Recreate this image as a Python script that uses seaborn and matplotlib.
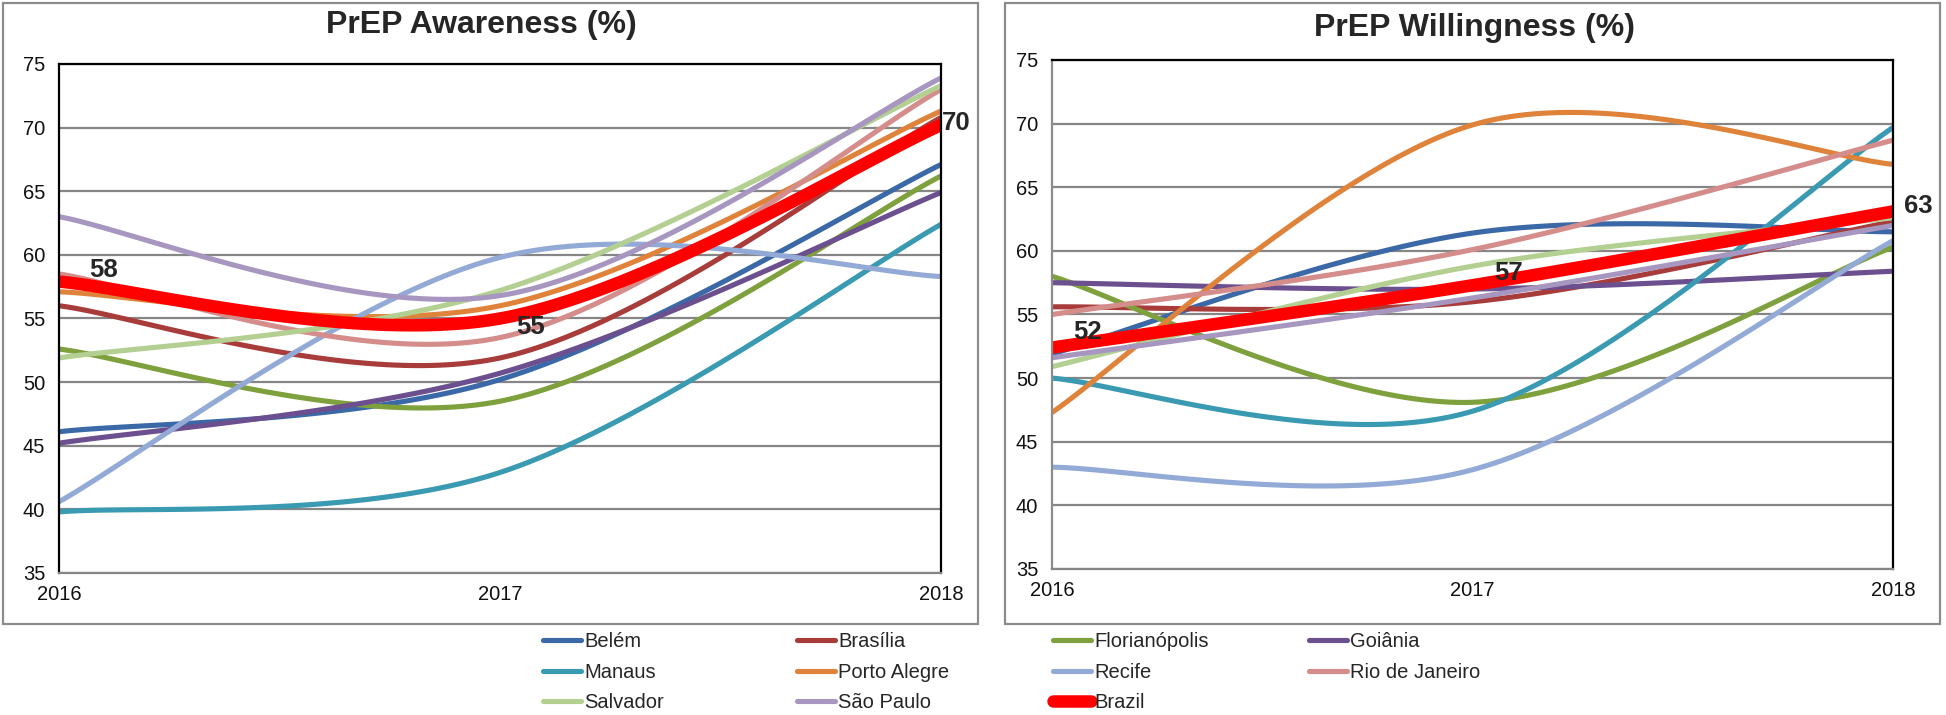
import numpy as np
import pandas as pd
import matplotlib
matplotlib.use("Agg")
import matplotlib.pyplot as plt
import seaborn as sns
from matplotlib.patches import Rectangle

sns.set_style("white")
plt.rcParams['font.family'] = ['Liberation Sans', 'DejaVu Sans']

# ---- Data ----
years = [2016, 2017, 2018]
cities = ['Belém', 'Brasília', 'Florianópolis', 'Goiânia', 'Manaus',
          'Porto Alegre', 'Recife', 'Rio de Janeiro', 'Salvador', 'São Paulo']
city_colors = ['#3b68a6', '#a83c3a', '#7ea03d', '#6b4f8e', '#3a9ab2',
               '#e0833a', '#92aad5', '#d58d8b', '#b3cf91', '#a796bf']

# awareness (%) per city, one list per year
awareness_2016 = [46.1, 56.0, 52.6, 45.2, 39.8, 57.1, 40.6, 58.5, 51.9, 63.0]
awareness_2017 = [50.2, 51.9, 48.5, 50.7, 42.9, 56.0, 59.8, 53.5, 57.2, 56.8]
awareness_2018 = [67.1, 70.8, 66.2, 64.9, 62.4, 71.3, 58.3, 73.0, 73.3, 73.9]
brazil_awareness = [57.9, 55.0, 70.2]

# willingness (%) per city, one list per year
willingness_2016 = [51.9, 55.6, 58.0, 57.5, 50.0, 47.3, 43.0, 55.0, 50.9, 51.6]
willingness_2017 = [61.4, 56.0, 48.1, 57.0, 47.4, 69.9, 42.8, 60.1, 58.8, 56.3]
willingness_2018 = [61.5, 62.3, 60.3, 58.4, 69.7, 66.8, 60.8, 68.7, 62.6, 62.0]
brazil_willingness = [52.4, 57.3, 63.1]

brazil_labels = ['58', '55', '70']
brazil_labels_w = ['52', '57', '63']


def smooth(xs, ys, n=60):
    # Excel-style smoothed line through the points (Bezier segments)
    pts = np.column_stack([xs, ys]).astype(float)
    ext = np.vstack([pts[0], pts, pts[-1]])
    t = np.linspace(0, 1, n)[:, None]
    out = []
    for i in range(len(pts) - 1):
        p0, p3 = pts[i], pts[i + 1]
        c1 = p0 + (ext[i + 2] - ext[i]) / 6
        c2 = p3 - (ext[i + 3] - ext[i + 1]) / 6
        seg = (1 - t)**3 * p0 + 3 * (1 - t)**2 * t * c1 + 3 * (1 - t) * t**2 * c2 + t**3 * p3
        out.append(seg if i == 0 else seg[1:])
    return np.vstack(out)


def curve_frame(vals):
    curve = smooth(years, vals)
    return pd.DataFrame({'year': curve[:, 0], 'value': curve[:, 1]})


W, H = 1946, 715
fig = plt.figure(figsize=(W / 100, H / 100), dpi=100)

# outer boxes
for x0, x1 in [(3, 978), (1005, 1940)]:
    fig.patches.append(Rectangle((x0 / W, 1 - 624 / H), (x1 - x0) / W, 621 / H,
                                 transform=fig.transFigure, fill=False,
                                 edgecolor='#8c8c8c', linewidth=1.6))

ax1 = fig.add_axes([59 / W, 1 - 573 / H, 882 / W, 509 / H])
ax2 = fig.add_axes([1052 / W, 1 - 569 / H, 841 / W, 509 / H])

panels = [
    (ax1, (awareness_2016, awareness_2017, awareness_2018), brazil_awareness,
     brazil_labels, [(30, 12), (16, -9), (1, 2)], 'black'),
    (ax2, (willingness_2016, willingness_2017, willingness_2018), brazil_willingness,
     brazil_labels_w, [(21, 16), (22, 12), (11, 5)], '#8c8c8c'),
]

for ax, (v16, v17, v18), bra, labels, offs, left_col in panels:
    ax.yaxis.grid(True, color='#868686', linewidth=1.6, zorder=0)
    ax.set_axisbelow(True)
    for k, (c, col) in enumerate(zip(cities, city_colors)):
        sub = curve_frame([v16[k], v17[k], v18[k]])
        sns.lineplot(data=sub, x='year', y='value', sort=False, color=col,
                     linewidth=3.7, label=c, legend=False, ax=ax)
    bf = curve_frame(bra)
    sns.lineplot(data=bf, x='year', y='value', sort=False, color='#ff0000',
                 linewidth=9, label='Brazil', legend=False, ax=ax)
    for yr, v, lab, (dx, dy) in zip(years, bra, labels, offs):
        ax.annotate(lab, (yr, v), xytext=(dx, dy), textcoords='offset pixels',
                    ha='left', va='center', fontsize=18.5, fontweight='bold',
                    annotation_clip=False)
    ax.set_xlim(2016, 2018)
    ax.set_ylim(35, 75)
    ax.set_xticks(years)
    ax.set_xticklabels([str(y) for y in years])
    ax.set_yticks(range(35, 80, 5))
    ax.set_xlabel('')
    ax.set_ylabel('')
    ax.tick_params(axis='both', length=0, labelsize=14.5, colors='#111111')
    ax.tick_params(axis='y', pad=10)
    ax.tick_params(axis='x', pad=9)
    for s in ['top', 'right']:
        ax.spines[s].set_color('black')
        ax.spines[s].set_linewidth(1.6)
    ax.spines['left'].set_color(left_col)
    ax.spines['left'].set_linewidth(1.6)
    ax.spines['bottom'].set_color('#868686')
    ax.spines['bottom'].set_linewidth(1.6)

fig.text(481 / W, 1 - 25 / H, 'PrEP Awareness (%)', ha='center', va='center',
         fontsize=23, fontweight='bold')
fig.text(1475 / W, 1 - 28 / H, 'PrEP Willingness (%)', ha='center', va='center',
         fontsize=23, fontweight='bold')

# legend, four equal-width columns filled row by row
handles = ax1.get_lines()
names = cities + ['Brazil']
col_x = [543, 797, 1053, 1309]
for ci, x in enumerate(col_x):
    idx = list(range(ci, len(names), 4))
    fig.legend([handles[i] for i in idx], [names[i] for i in idx],
               loc='upper left', bbox_to_anchor=(x / W, 1 - 632 / H),
               frameon=False, fontsize=14.5, handlelength=1.9, handletextpad=0.15,
               labelspacing=0.58, borderpad=0, borderaxespad=0)

fig.savefig('out.png', dpi=100)
